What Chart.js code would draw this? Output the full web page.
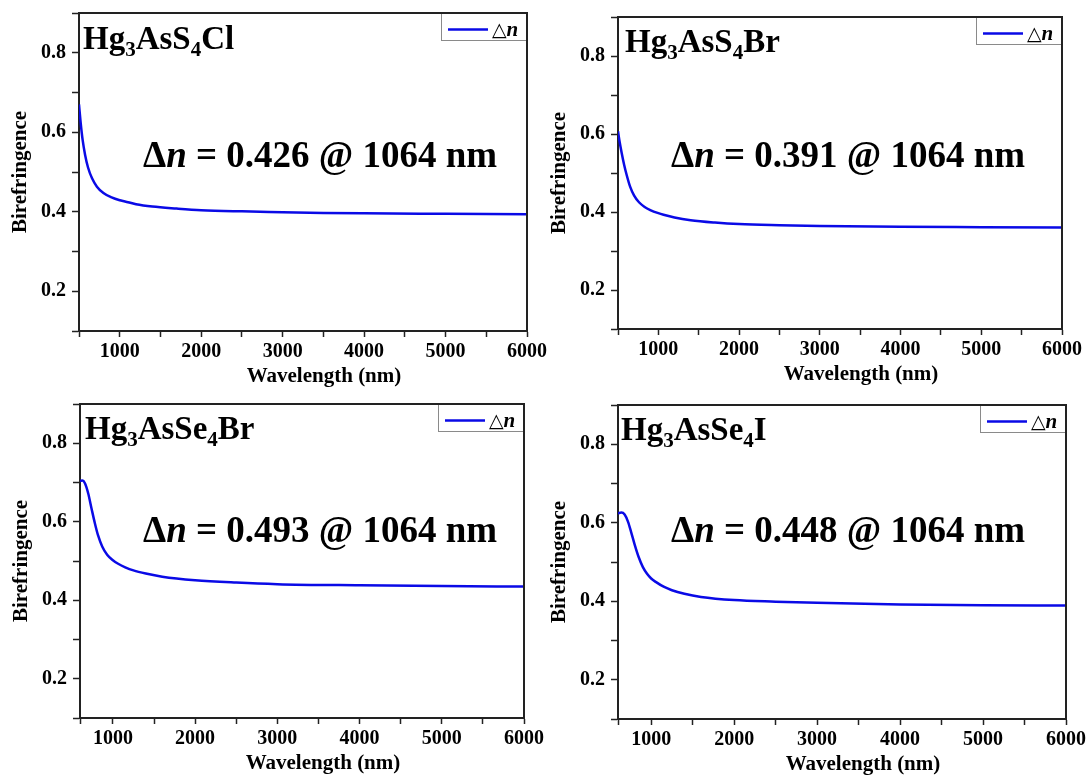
<!DOCTYPE html>
<html><head><meta charset="utf-8">
<script src="https://cdn.jsdelivr.net/npm/chart.js@4.4.1/dist/chart.umd.min.js"></script>
<style>
html,body{margin:0;padding:0;background:#fff;}
body{width:1090px;height:780px;position:relative;overflow:hidden;}
canvas{position:absolute;}
</style></head><body>
<canvas id="c0"></canvas><canvas id="c1"></canvas><canvas id="c2"></canvas><canvas id="c3"></canvas>
<script>
// ---------- data ----------
const compoundNames = ['Hg3AsS4Cl', 'Hg3AsS4Br', 'Hg3AsSe4Br', 'Hg3AsSe4I'];
const birefringenceAt1064 = ['0.426', '0.391', '0.493', '0.448'];
const seriesName = '\u25B3n';
const xAxisTitle = 'Wavelength (nm)';
const yAxisTitle = 'Birefringence';

const wavelength_Hg3AsS4Cl = [500, 520, 545, 575, 610, 660, 720, 800, 900, 1000, 1064, 1200, 1400, 1700, 2000, 2500, 3000, 3500, 4000, 5000, 6000];
const biref_Hg3AsS4Cl      = [0.670, 0.625, 0.580, 0.543, 0.512, 0.484, 0.463, 0.447, 0.436, 0.429, 0.426, 0.419, 0.413, 0.408, 0.404, 0.401, 0.399, 0.397, 0.396, 0.395, 0.394];

const wavelength_Hg3AsS4Br = [500, 520, 545, 575, 610, 650, 700, 760, 830, 900, 1000, 1064, 1200, 1400, 1700, 2000, 2500, 3000, 4000, 5000, 6000];
const biref_Hg3AsS4Br      = [0.607, 0.580, 0.552, 0.522, 0.493, 0.465, 0.442, 0.425, 0.413, 0.405, 0.397, 0.393, 0.386, 0.379, 0.373, 0.369, 0.366, 0.364, 0.362, 0.361, 0.360];

const wavelength_Hg3AsSe4Br = [600, 630, 660, 700, 740, 780, 820, 870, 930, 1000, 1064, 1150, 1250, 1400, 1600, 2000, 2500, 3000, 4000, 5000, 6000];
const biref_Hg3AsSe4Br      = [0.704, 0.705, 0.698, 0.672, 0.634, 0.597, 0.565, 0.537, 0.516, 0.502, 0.493, 0.484, 0.476, 0.468, 0.460, 0.451, 0.445, 0.441, 0.438, 0.436, 0.435];

const wavelength_Hg3AsSe4I = [600, 640, 680, 720, 760, 800, 850, 900, 950, 1000, 1064, 1150, 1250, 1400, 1600, 2000, 2500, 3000, 4000, 5000, 6000];
const biref_Hg3AsSe4I      = [0.624, 0.626, 0.621, 0.603, 0.575, 0.545, 0.512, 0.487, 0.470, 0.458, 0.448, 0.437, 0.428, 0.419, 0.411, 0.403, 0.399, 0.396, 0.392, 0.390, 0.389];

const wavelengths = [wavelength_Hg3AsS4Cl, wavelength_Hg3AsS4Br, wavelength_Hg3AsSe4Br, wavelength_Hg3AsSe4I];
const birefs = [biref_Hg3AsS4Cl, biref_Hg3AsS4Br, biref_Hg3AsSe4Br, biref_Hg3AsSe4I];
const xMins = [500, 500, 600, 600];

// ---------- layout ----------
const panelBoxes = [
  {L: 79, T: 9, R: 527, B: 331, fx: 4, fy: 36, tx: 64, ty: 154},
  {L: 618, T: 13, R: 1062, B: 329, fx: 7, fy: 35, tx: 53, ty: 150},
  {L: 80, T: 400, R: 524, B: 718, fx: 5, fy: 35, tx: 63, ty: 138},
  {L: 618, T: 401, R: 1066, B: 719, fx: 3, fy: 35, tx: 53, ty: 137}
];
const LINE_COLOR = '#0a0ae6';
const SERIF = "'Liberation Serif', 'Times New Roman', serif";

Chart.defaults.font.family = SERIF;
Chart.defaults.font.weight = 'bold';
Chart.defaults.font.size = 20;
Chart.defaults.color = '#000';

function drawRuns(ctx, x, y, runs) {
  for (const r of runs) {
    ctx.font = r.font;
    ctx.fillText(r.t, x, y + (r.dy || 0));
    x += ctx.measureText(r.t).width;
  }
}

const panelPlugin = {
  id: 'panelDeco',
  afterDraw(chart, args, o) {
    const {ctx, chartArea: a} = chart;
    ctx.save();
    // legend box
    const lw = 86, lh = 28;
    ctx.fillStyle = '#fff';
    ctx.fillRect(a.right - lw, a.top, lw, lh);
    ctx.strokeStyle = '#8a8a8a'; ctx.lineWidth = 1;
    ctx.strokeRect(a.right - lw + 0.5, a.top + 0.5, lw - 1, lh - 1);
    const ds = chart.data.datasets[0];
    ctx.strokeStyle = ds.borderColor; ctx.lineWidth = 2.5;
    ctx.beginPath(); ctx.moveTo(a.right - 79, a.top + 16.5); ctx.lineTo(a.right - 39, a.top + 16.5); ctx.stroke();
    ctx.fillStyle = '#000'; ctx.textBaseline = 'alphabetic';
    drawRuns(ctx, a.right - 35, a.top + 23, [
      {t: ds.label.slice(0, 1), font: "normal 19px 'DejaVu Sans'"},
      {t: ds.label.slice(1), font: 'italic bold 21px ' + SERIF}
    ]);
    // frame top/right
    ctx.strokeStyle = '#222'; ctx.lineWidth = 2;
    ctx.beginPath(); ctx.moveTo(a.left, a.top); ctx.lineTo(a.right, a.top); ctx.lineTo(a.right, a.bottom); ctx.stroke();
    // compound formula with subscripts
    const parts = o.name.split(/(\d+)/).filter(s => s.length);
    drawRuns(ctx, a.left + o.fx, a.top + o.fy, parts.map(p => /^\d+$/.test(p)
      ? {t: p, font: 'bold 21px ' + SERIF, dy: 7}
      : {t: p, font: 'bold 33px ' + SERIF}));
    // birefringence annotation
    drawRuns(ctx, a.left + o.tx, a.top + o.ty, [
      {t: '\u0394', font: 'bold 37px ' + SERIF},
      {t: 'n', font: 'italic bold 37px ' + SERIF},
      {t: ' = ' + o.dn + ' @ 1064 nm', font: 'bold 37px ' + SERIF}
    ]);
    ctx.restore();
  }
};

for (let i = 0; i < 4; i++) {
  const p = panelBoxes[i];
  const cv = document.getElementById('c' + i);
  const left = p.L - 80, top = p.T - 14;
  cv.width = p.R - p.L + 104;
  cv.height = p.B - p.T + 72;
  cv.style.left = left + 'px';
  cv.style.top = top + 'px';
  const pts = wavelengths[i].map((x, k) => ({x, y: birefs[i][k]}));
  new Chart(cv, {
    type: 'line',
    data: {datasets: [{
      label: seriesName, data: pts, borderColor: LINE_COLOR, borderWidth: 2.5,
      pointRadius: 0, cubicInterpolationMode: 'monotone', fill: false
    }]},
    options: {
      responsive: false, animation: false, devicePixelRatio: 1,
      layout: {padding: {left: 0, top: 14, right: 24, bottom: 0}},
      plugins: {
        legend: {display: false}, tooltip: {enabled: false},
        panelDeco: {name: compoundNames[i], dn: birefringenceAt1064[i], fx: p.fx, fy: p.fy, tx: p.tx, ty: p.ty}
      },
      scales: {
        x: {
          type: 'linear', min: xMins[i], max: 6000,
          afterFit: s => { s.height = 58; },
          afterBuildTicks: s => {
            const t = [{value: s.min}];
            for (let v = Math.floor(s.min / 500) * 500 + 500; v <= s.max; v += 500) t.push({value: v});
            s.ticks = t;
          },
          ticks: {autoSkip: false, maxRotation: 0, minRotation: 0, padding: 3,
            callback: v => (v % 1000 === 0 ? String(v) : '')},
          grid: {drawOnChartArea: false, drawTicks: true, tickLength: 6, tickColor: '#222', tickWidth: 1.5},
          border: {display: true, color: '#222', width: 2},
          title: {display: true, text: '\u2002\u2002\u2002\u2002' + xAxisTitle, font: {size: 21, weight: 'bold'}, padding: {top: 0, bottom: 0}}
        },
        y: {
          min: 0.1, max: 0.9,
          afterFit: s => { s.width = 80; },
          ticks: {stepSize: 0.1, autoSkip: false, padding: 6,
            callback: v => { const k = Math.round(v * 10); return (k % 2 === 0 && k >= 2 && k <= 8) ? (k / 10).toFixed(1) : ''; }},
          grid: {drawOnChartArea: false, drawTicks: true, tickLength: 7, tickColor: '#222', tickWidth: 1.5},
          border: {display: true, color: '#222', width: 2},
          title: {display: true, text: yAxisTitle, font: {size: 21, weight: 'bold'}, padding: {top: 9, bottom: 0}}
        }
      }
    },
    plugins: [panelPlugin]
  });
}
</script>
</body></html>
